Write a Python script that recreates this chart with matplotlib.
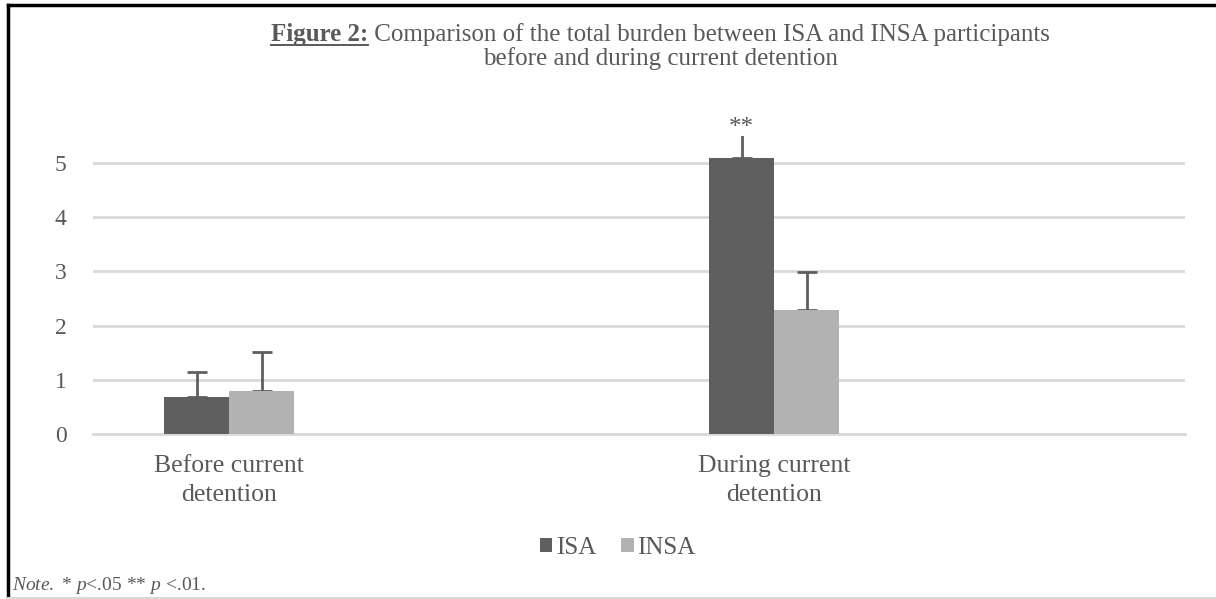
import matplotlib
matplotlib.use("Agg")
import matplotlib.pyplot as plt
import numpy as np

categories = ["Before current\ndetention", "During current\ndetention"]
isa_means = [0.69, 5.09]
insa_means = [0.80, 2.29]
isa_err = [0.46, 0.55]
insa_err = [0.71, 0.70]
yticks = [0, 1, 2, 3, 4, 5]
sig_marks = ["", "**"]

plt.rcParams["font.family"] = ["Liberation Serif", "DejaVu Serif"]
plt.rcParams["mathtext.fontset"] = "custom"
plt.rcParams["mathtext.rm"] = "Liberation Serif"
plt.rcParams["mathtext.it"] = "Liberation Serif:italic"
plt.rcParams["mathtext.bf"] = "Liberation Serif:bold"

text_col = "#595959"
dark = "#5f5f5f"
light = "#b2b2b2"
grid_col = "#d9d9d9"

fig = plt.figure(figsize=(12.16, 5.99), dpi=100)
ax = fig.add_axes([0.0765, 0.2755, 0.898, 0.4975])

x = np.arange(len(categories))
w = 0.119
ax.bar(x - w / 2, isa_means, w, color=dark, label="ISA", zorder=3)
ax.bar(x + w / 2, insa_means, w, color=light, label="INSA", zorder=3)
# error bars drawn under the bars so only the upper half shows
ax.errorbar(x - w / 2, isa_means, yerr=[np.zeros(2), isa_err], fmt="none",
            ecolor=dark, elinewidth=2, capsize=7, capthick=2, zorder=2.5)
ax.errorbar(x + w / 2, insa_means, yerr=[np.zeros(2), insa_err], fmt="none",
            ecolor=dark, elinewidth=2, capsize=7, capthick=2, zorder=2.5)

for i in range(len(categories)):
    if sig_marks[i]:
        ax.text(x[i] - w / 2, isa_means[i] + isa_err[i] - 0.2, sig_marks[i],
                ha="center", va="bottom", fontsize=18, color=text_col)

ax.set_xlim(-0.25, 1.754)
ax.set_ylim(0, 5.5)
ax.set_yticks(yticks)
ax.set_yticklabels([str(t) for t in yticks], fontsize=17, color=text_col)
ax.set_xticks(x)
ax.set_xticklabels(categories, fontsize=18.5, color=text_col, linespacing=1.4)
ax.tick_params(axis="both", length=0)
ax.tick_params(axis="y", pad=19)
ax.tick_params(axis="x", pad=15)
ax.yaxis.grid(True, color=grid_col, linewidth=2)
ax.set_axisbelow(True)
for s in ["top", "right", "left"]:
    ax.spines[s].set_visible(False)
ax.spines["bottom"].set_color(grid_col)
ax.spines["bottom"].set_linewidth(2)

fig.legend(loc="center", bbox_to_anchor=(0.508, 0.085), ncol=2, frameon=False,
           fontsize=18, handlelength=0.5, handleheight=0.5, handletextpad=0.15,
           columnspacing=1.0, labelcolor=text_col)

# title: bold underlined "Figure 2:" followed by regular text
renderer = fig.canvas.get_renderer()
t1 = fig.text(0, 0.943, "Figure 2:", fontsize=18, fontweight="bold",
              color=text_col, ha="left", va="center")
t2 = fig.text(0, 0.943, " Comparison of the total burden between ISA and INSA participants",
              fontsize=18, color=text_col, ha="left", va="center")
w1 = t1.get_window_extent(renderer).width / fig.bbox.width
w2 = t2.get_window_extent(renderer).width / fig.bbox.width
x0 = 0.543 - (w1 + w2) / 2
t1.set_x(x0)
t2.set_x(x0 + w1)
bb = t1.get_window_extent(renderer)
uy = (bb.y0 + 1) / fig.bbox.height
fig.add_artist(plt.Line2D([x0, x0 + w1], [uy, uy], color=text_col, linewidth=1.4))
fig.text(0.543, 0.902, "before and during current detention", fontsize=18,
         color=text_col, ha="center", va="center")

fig.text(0.01, 0.023, r"$\mathit{Note.}$ * $\mathit{p}$<.05 ** $\mathit{p}$ <.01.",
         fontsize=14, color=text_col, ha="left", va="center")

# frame lines
fig.add_artist(plt.Line2D([0.0065, 0.0065], [0, 0.992], color="black", linewidth=2.5))
fig.add_artist(plt.Line2D([0.0065, 1], [0.992, 0.992], color="black", linewidth=2.5))
fig.add_artist(plt.Line2D([0.0065, 1], [0.001, 0.001], color=grid_col, linewidth=1.5))

fig.savefig("out.png", dpi=100)
